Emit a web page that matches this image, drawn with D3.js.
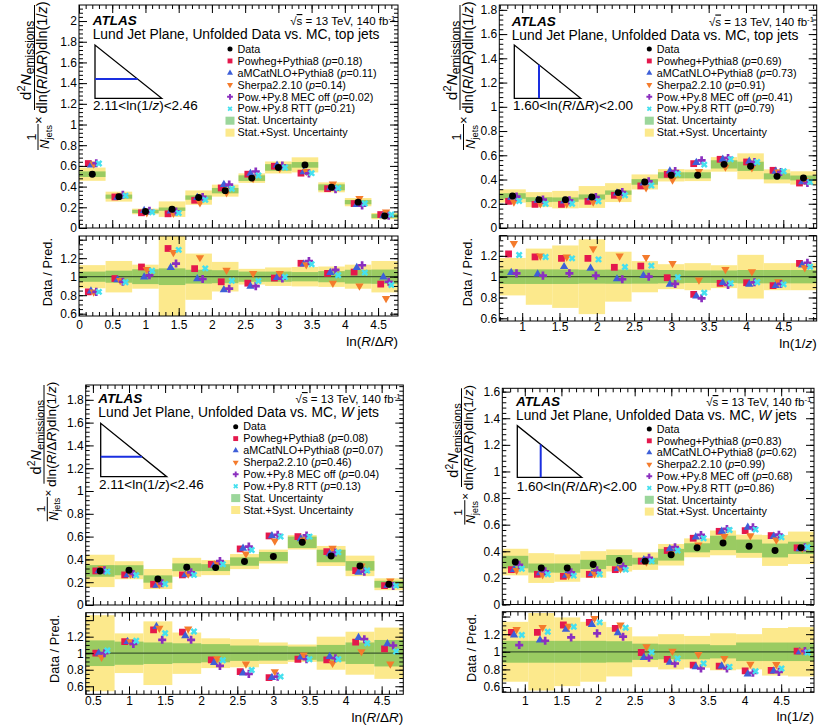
<!DOCTYPE html>
<html>
<head>
<meta charset="utf-8">
<script src="https://cdnjs.cloudflare.com/ajax/libs/d3/7.8.5/d3.min.js"></script>
<style>
body { margin: 0; background: #fff; }
text { font-family: "Liberation Sans", Arial, Helvetica, sans-serif; fill: #000; }
</style>
</head>
<body>
<div id="chart"></div>
<script>
// bin edges
var edgesDrTop = [0, 0.4, 0.8, 1.2, 1.6, 2.0, 2.4, 2.8, 3.2, 3.6, 4.0, 4.4, 4.8];
var edgesDrW = [0.4, 0.8, 1.2, 1.6, 2.0, 2.4, 2.8, 3.2, 3.6, 4.0, 4.4, 4.8];
var edgesZ = [0.693, 1.048, 1.402, 1.757, 2.111, 2.466, 2.820, 3.175, 3.529, 3.884, 4.239, 4.593, 4.948];

// tick labels
var ticksXDrTop = [0, 0.5, 1, 1.5, 2, 2.5, 3, 3.5, 4, 4.5];
var ticksXDrW = [0.5, 1, 1.5, 2, 2.5, 3, 3.5, 4, 4.5];
var ticksXZ = [1, 1.5, 2, 2.5, 3, 3.5, 4, 4.5];
var ticksY20 = [0, 0.2, 0.4, 0.6, 0.8, 1, 1.2, 1.4, 1.6, 1.8, 2];
var ticksY18 = [0, 0.2, 0.4, 0.6, 0.8, 1, 1.2, 1.4, 1.6, 1.8];
var ticksY16 = [0, 0.2, 0.4, 0.6, 0.8, 1, 1.2, 1.4, 1.6];
var ticksRatio = [0.6, 0.8, 1, 1.2, 1.4];
var labelsRatio = [0.6, 0.8, 1, 1.2];

var modelNames = ["Powheg+Pythia8", "aMCatNLO+Pythia8", "Sherpa2.2.10", "Pow.+Py.8 MEC off", "Pow.+Py.8 RTT"];

// top jets, vs ln(R/dR), 2.11<ln(1/z)<2.46
var pTopDr = [0.18, 0.11, 0.14, 0.02, 0.21];
var topDrData = [0.52, 0.303, 0.16, 0.182, 0.294, 0.361, 0.482, 0.585, 0.61, 0.393, 0.25, 0.115];
var topDrStat = [0.027, 0.02, 0.016, 0.016, 0.021, 0.026, 0.027, 0.032, 0.027, 0.029, 0.021, 0.019];
var topDrTot = [0.064, 0.048, 0.027, 0.075, 0.069, 0.058, 0.046, 0.058, 0.073, 0.048, 0.04, 0.03];
var topDrPowheg = [0.623, 0.30, 0.147, 0.137, 0.268, 0.387, 0.52, 0.597, 0.53, 0.38, 0.236, 0.13];
var topDrAmc = [0.607, 0.297, 0.169, 0.163, 0.294, 0.42, 0.527, 0.607, 0.543, 0.387, 0.227, 0.118];
var topDrSherpa = [0.62, 0.316, 0.148, 0.144, 0.244, 0.342, 0.48, 0.575, 0.546, 0.425, 0.287, 0.155];
var topDrMec = [0.626, 0.32, 0.166, 0.16, 0.30, 0.42, 0.546, 0.604, 0.527, 0.374, 0.217, 0.118];
var topDrRtt = [0.623, 0.313, 0.153, 0.144, 0.272, 0.38, 0.508, 0.585, 0.53, 0.387, 0.236, 0.13];
var topDrRPowheg = [0.836, 0.98, 1.105, 1.305, 1.087, 0.945, 0.93, 0.985, 1.145, 1.036, 1.05, 0.92];
var topDrRAmc = [0.844, 0.967, 0.996, 1.098, 0.978, 0.858, 0.895, 0.99, 1.135, 1.044, 1.098, 0.996];
var topDrRSherpa = [0.836, 0.96, 1.08, 1.262, 1.207, 1.07, 1.036, 1.036, 1.13, 0.93, 0.9, 0.764];
var topDrRMec = [0.836, 0.945, 1.015, 1.142, 0.975, 0.87, 0.898, 0.98, 1.17, 1.073, 1.124, 0.945];
var topDrRRtt = [0.836, 0.94, 1.065, 1.29, 1.09, 0.956, 0.953, 0.996, 1.135, 1.015, 1.044, 0.91];
var topDrRStat = [0.055, 0.065, 0.08, 0.09, 0.075, 0.07, 0.055, 0.055, 0.05, 0.06, 0.075, 0.077];
var topDrRTot = [0.125, 0.17, 0.13, 0.45, 0.25, 0.16, 0.085, 0.1, 0.105, 0.11, 0.13, 0.17];

// top jets, vs ln(1/z), 1.60<ln(R/dR)<2.00
var pTopZ = [0.69, 0.73, 0.91, 0.41, 0.79];
var topZData = [0.264, 0.234, 0.234, 0.256, 0.292, 0.38, 0.435, 0.435, 0.525, 0.509, 0.426, 0.413];
var topZStat = [0.023, 0.02, 0.018, 0.021, 0.018, 0.023, 0.025, 0.025, 0.034, 0.038, 0.025, 0.02];
var topZTot = [0.055, 0.062, 0.072, 0.09, 0.078, 0.062, 0.051, 0.048, 0.06, 0.107, 0.058, 0.055];
var topZPowheg = [0.22, 0.195, 0.195, 0.22, 0.27, 0.347, 0.443, 0.531, 0.567, 0.545, 0.476, 0.371];
var topZAmc = [0.253, 0.228, 0.223, 0.248, 0.289, 0.371, 0.47, 0.539, 0.567, 0.55, 0.468, 0.38];
var topZSherpa = [0.215, 0.2, 0.2, 0.215, 0.248, 0.333, 0.396, 0.468, 0.503, 0.498, 0.462, 0.393];
var topZMec = [0.259, 0.234, 0.228, 0.256, 0.297, 0.385, 0.47, 0.558, 0.578, 0.545, 0.462, 0.371];
var topZRtt = [0.223, 0.2, 0.2, 0.22, 0.27, 0.35, 0.448, 0.523, 0.567, 0.545, 0.468, 0.38];
var topZRPowheg = [1.218, 1.19, 1.176, 1.176, 1.09, 1.102, 0.99, 0.83, 0.936, 0.942, 0.914, 1.128];
var topZRAmc = [1.04, 1.026, 1.096, 1.08, 0.978, 1.01, 0.926, 0.814, 0.942, 0.926, 0.914, 1.112];
var topZRSherpa = [1.32, 1.2, 1.19, 1.27, 1.2, 1.186, 1.128, 0.968, 1.07, 1.048, 0.952, 1.086];
var topZRMec = [1.032, 1.01, 1.032, 1.01, 0.975, 1.0, 0.93, 0.792, 0.92, 0.946, 0.93, 1.134];
var topZRRtt = [1.208, 1.19, 1.176, 1.166, 1.093, 1.106, 0.994, 0.846, 0.936, 0.946, 0.926, 1.096];
var topZRStat = [0.07, 0.07, 0.07, 0.067, 0.068, 0.067, 0.064, 0.06, 0.06, 0.064, 0.064, 0.064];
var topZRTot = [0.18, 0.27, 0.3, 0.36, 0.24, 0.15, 0.12, 0.13, 0.11, 0.21, 0.13, 0.13];

// W jets, vs ln(R/dR), 2.11<ln(1/z)<2.46
var pWDr = [0.08, 0.07, 0.46, 0.04, 0.13];
var wDrData = [0.299, 0.305, 0.228, 0.331, 0.328, 0.381, 0.425, 0.55, 0.43, 0.343, 0.182];
var wDrStat = [0.051, 0.044, 0.032, 0.034, 0.03, 0.037, 0.04, 0.05, 0.055, 0.042, 0.03];
var wDrTot = [0.142, 0.079, 0.088, 0.083, 0.066, 0.066, 0.061, 0.063, 0.088, 0.09, 0.052];
var wDrPowheg = [0.299, 0.264, 0.182, 0.264, 0.357, 0.492, 0.606, 0.6, 0.468, 0.302, 0.17];
var wDrAmc = [0.299, 0.264, 0.173, 0.264, 0.351, 0.498, 0.606, 0.58, 0.448, 0.287, 0.173];
var wDrSherpa = [0.322, 0.272, 0.182, 0.272, 0.366, 0.448, 0.562, 0.571, 0.498, 0.343, 0.211];
var wDrMec = [0.305, 0.272, 0.19, 0.287, 0.386, 0.512, 0.615, 0.61, 0.46, 0.293, 0.167];
var wDrRtt = [0.293, 0.261, 0.184, 0.264, 0.357, 0.483, 0.6, 0.6, 0.463, 0.302, 0.17];
var wDrRPowheg = [1.0, 1.141, 1.283, 1.255, 0.919, 0.778, 0.705, 0.927, 0.919, 1.133, 1.053];
var wDrRAmc = [1.0, 1.141, 1.323, 1.21, 0.887, 0.758, 0.705, 0.952, 0.96, 1.19, 1.113];
var wDrRSherpa = [0.952, 1.14, 1.303, 1.295, 0.935, 0.87, 0.778, 0.98, 0.88, 1.02, 0.87];
var wDrRMec = [1.0, 1.113, 1.162, 1.162, 0.846, 0.75, 0.717, 0.927, 0.94, 1.17, 1.093];
var wDrRRtt = [1.032, 1.15, 1.242, 1.263, 0.915, 0.798, 0.717, 0.927, 0.927, 1.121, 1.02];
var wDrRStat = [0.155, 0.14, 0.13, 0.12, 0.11, 0.093, 0.09, 0.08, 0.1, 0.13, 0.16];
var wDrRTot = [0.46, 0.24, 0.385, 0.25, 0.18, 0.17, 0.13, 0.105, 0.2, 0.26, 0.31];

// W jets, vs ln(1/z), 1.60<ln(R/dR)<2.00
var pWZ = [0.83, 0.62, 0.99, 0.68, 0.86];
var wZData = [0.319, 0.274, 0.274, 0.301, 0.331, 0.326, 0.374, 0.426, 0.463, 0.438, 0.406, 0.426];
var wZStat = [0.047, 0.034, 0.035, 0.035, 0.041, 0.025, 0.044, 0.034, 0.054, 0.05, 0.052, 0.046];
var wZTot = [0.1, 0.112, 0.103, 0.1, 0.083, 0.066, 0.081, 0.071, 0.093, 0.087, 0.116, 0.122];
var wZPowheg = [0.262, 0.227, 0.212, 0.227, 0.262, 0.326, 0.406, 0.498, 0.55, 0.555, 0.518, 0.426];
var wZAmc = [0.262, 0.237, 0.219, 0.232, 0.269, 0.336, 0.418, 0.506, 0.55, 0.58, 0.513, 0.418];
var wZSherpa = [0.257, 0.224, 0.219, 0.232, 0.269, 0.319, 0.381, 0.448, 0.511, 0.518, 0.486, 0.423];
var wZMec = [0.299, 0.249, 0.242, 0.257, 0.286, 0.351, 0.431, 0.523, 0.568, 0.58, 0.525, 0.431];
var wZRtt = [0.269, 0.227, 0.217, 0.227, 0.262, 0.326, 0.406, 0.498, 0.56, 0.563, 0.506, 0.431];
var wZRPowheg = [1.22, 1.22, 1.304, 1.334, 1.266, 0.992, 0.913, 0.848, 0.837, 0.784, 0.79, 1.008];
var wZRAmc = [1.19, 1.133, 1.254, 1.31, 1.216, 0.935, 0.879, 0.829, 0.837, 0.746, 0.78, 1.0];
var wZRSherpa = [1.254, 1.277, 1.292, 1.38, 1.304, 1.057, 1.008, 0.97, 0.924, 0.86, 0.856, 1.01];
var wZRMec = [1.076, 1.125, 1.163, 1.209, 1.171, 0.932, 0.867, 0.81, 0.81, 0.761, 0.772, 1.008];
var wZRRtt = [1.19, 1.228, 1.285, 1.334, 1.273, 0.996, 0.924, 0.867, 0.829, 0.78, 0.81, 0.992];
var wZRStat = [0.124, 0.124, 0.124, 0.124, 0.12, 0.092, 0.085, 0.085, 0.075, 0.105, 0.105, 0.105];
var wZRTot = [0.34, 0.44, 0.39, 0.34, 0.28, 0.175, 0.2, 0.18, 0.21, 0.2, 0.27, 0.28];

var YELLOW = "#fce98c";
var GREEN = "rgba(55,173,55,0.5)";
var modelColors = ["#e4184c", "#3e5fd8", "#f47b2c", "#8b2fbf", "#45e0ef"];
var modelShapes = ["square", "triUp", "triDown", "cross", "x"];
var modelOffsets = [-0.15, -0.05, 0.05, 0.15, 0.25]; // fraction of bin width

var svg = d3.select("#chart").append("svg")
  .attr("width", 827)
  .attr("height", 726);

var fmt = function(d) { return String(+d.toFixed(2)); };

function marker(g, type, cx, cy, sc, color) {
  var types = {circle: d3.symbolCircle, square: d3.symbolSquare, triUp: d3.symbolTriangle,
    triDown: d3.symbolTriangle, cross: d3.symbolCross, x: d3.symbolCross};
  var sizes = {circle: 38, square: 46, triUp: 30, triDown: 30, cross: 36, x: 30};
  var rot = type == "triDown" ? 180 : (type == "x" ? 45 : 0);
  g.append("path")
    .attr("d", d3.symbol().type(types[type]).size(sizes[type] * sc * sc)())
    .attr("transform", "translate(" + cx + "," + cy + ") rotate(" + rot + ")")
    .attr("fill", color);
}

function styleAxis(a, fs) {
  a.attr("font-size", null).attr("font-family", null);
  a.select(".domain").remove();
  a.selectAll(".tick line").attr("stroke", "#000").attr("stroke-width", 1);
  a.selectAll(".tick text").style("font-size", fs + "px").attr("fill", "#000");
}

// R/ΔR written with italic R
function addDR(t) {
  t.append("tspan").style("font-style", "italic").text("R");
  t.append("tspan").text("/\u0394");
  t.append("tspan").style("font-style", "italic").text("R");
}

function addLnZ(t) {
  t.append("tspan").text("ln(1/");
  t.append("tspan").style("font-style", "italic").text("z");
  t.append("tspan").text(")");
}

function drawYTitle(lx, top, s) {
  var g = svg.append("g").attr("transform", "translate(" + lx + ",0) rotate(-90)");
  var fs = 14.5 * s;
  var c = -(top + 52.5 * s);
  g.append("line")
    .attr("x1", -top).attr("x2", -(top + 105 * s))
    .attr("y1", 0).attr("y2", 0)
    .attr("stroke", "#000").attr("stroke-width", 1);
  var num = g.append("text").attr("x", c - 3 * s).attr("y", -3.5 * s)
    .attr("text-anchor", "middle").style("font-size", (15.5 * s) + "px");
  num.append("tspan").text("d");
  num.append("tspan").attr("dy", -6 * s).style("font-size", (11 * s) + "px").text("2");
  num.append("tspan").attr("dy", 6 * s).style("font-style", "italic").text("N");
  num.append("tspan").attr("dy", 3 * s).style("font-size", (12 * s) + "px").text("emissions");
  var den = g.append("text").attr("x", c).attr("y", 12.5 * s)
    .attr("text-anchor", "middle").style("font-size", fs + "px");
  den.append("tspan").text("dln(");
  addDR(den);
  den.append("tspan").text(")d");
  addLnZ(den);
  g.append("text").attr("x", -(top + 115 * s)).attr("y", 8 * s)
    .attr("text-anchor", "middle").style("font-size", (12.5 * s) + "px").text("\u00d7");
  g.append("line")
    .attr("x1", -(top + 119 * s)).attr("x2", -(top + 145 * s))
    .attr("y1", 3.5 * s).attr("y2", 3.5 * s)
    .attr("stroke", "#000").attr("stroke-width", 1);
  g.append("text").attr("x", -(top + 132 * s)).attr("y", 1 * s)
    .attr("text-anchor", "middle").style("font-size", (12.5 * s) + "px").text("1");
  var nj = g.append("text").attr("x", -(top + 132 * s)).attr("y", 14.5 * s)
    .attr("text-anchor", "middle").style("font-size", (13 * s) + "px");
  nj.append("tspan").style("font-style", "italic").text("N");
  nj.append("tspan").attr("dy", 3 * s).style("font-size", (9.5 * s) + "px").text("jets");
}

function drawPanel(p) {
  var L = p.layout;
  var g = svg.append("g");
  var x = d3.scaleLinear().domain(L.xDomain).range([L.left, L.right]);
  var y = d3.scaleLinear().domain(L.yDomain).range([L.mainBottom, L.top]);
  var yr = d3.scaleLinear().domain(L.rDomain).range([L.ratioBottom, L.ratioTop]);
  var nb = p.data.length;
  var idx = d3.range(nb);

  var clipId = "clip" + p.id;
  svg.append("clipPath").attr("id", clipId).append("rect")
    .attr("x", L.left).attr("y", L.ratioTop)
    .attr("width", L.right - L.left).attr("height", L.ratioBottom - L.ratioTop);

  // main bands
  var bands = g.append("g");
  idx.forEach(function(i) {
    var x0 = x(p.edges[i]), x1 = x(p.edges[i + 1]);
    bands.append("rect").attr("x", x0).attr("width", x1 - x0)
      .attr("y", y(p.data[i] + p.tot[i])).attr("height", y(p.data[i] - p.tot[i]) - y(p.data[i] + p.tot[i]))
      .attr("fill", YELLOW);
  });
  idx.forEach(function(i) {
    var x0 = x(p.edges[i]), x1 = x(p.edges[i + 1]);
    bands.append("rect").attr("x", x0).attr("width", x1 - x0)
      .attr("y", y(p.data[i] + p.stat[i])).attr("height", y(p.data[i] - p.stat[i]) - y(p.data[i] + p.stat[i]))
      .attr("fill", GREEN);
  });

  // ratio bands
  var rb = g.append("g").attr("clip-path", "url(#" + clipId + ")");
  idx.forEach(function(i) {
    var x0 = x(p.edges[i]), x1 = x(p.edges[i + 1]);
    rb.append("rect").attr("x", x0).attr("width", x1 - x0)
      .attr("y", yr(1 + p.rTot[i])).attr("height", yr(1 - p.rTot[i]) - yr(1 + p.rTot[i]))
      .attr("fill", YELLOW);
  });
  idx.forEach(function(i) {
    var x0 = x(p.edges[i]), x1 = x(p.edges[i + 1]);
    rb.append("rect").attr("x", x0).attr("width", x1 - x0)
      .attr("y", yr(1 + p.rStat[i])).attr("height", yr(1 - p.rStat[i]) - yr(1 + p.rStat[i]))
      .attr("fill", GREEN);
  });
  rb.append("line").attr("x1", L.left).attr("x2", L.right)
    .attr("y1", yr(1)).attr("y2", yr(1))
    .attr("stroke", "#3d5a30").attr("stroke-width", 1.3);

  // markers
  var mk = g.append("g");
  var rmk = g.append("g").attr("clip-path", "url(#" + clipId + ")");
  p.mc.forEach(function(series, k) {
    idx.forEach(function(i) {
      var w = p.edges[i + 1] - p.edges[i];
      var cx = x((p.edges[i] + p.edges[i + 1]) / 2 + modelOffsets[k] * w);
      marker(mk, modelShapes[k], cx, y(series[i]), 1, modelColors[k]);
      marker(rmk, modelShapes[k], cx, yr(p.ratio[k][i]), 1, modelColors[k]);
    });
  });
  idx.forEach(function(i) {
    marker(mk, "circle", x((p.edges[i] + p.edges[i + 1]) / 2), y(p.data[i]), 1, "#000");
  });

  // axes, ROOT style: ticks inside on all four sides
  var yMinor = d3.range(0, L.yDomain[1], 0.04);
  var rMinor = d3.range(0.5, L.rDomain[1], 0.05).filter(function(d) { return d >= L.rDomain[0]; });
  var xMinor = d3.range(0, L.xDomain[1], 0.1).filter(function(d) { return d >= L.xDomain[0]; });

  function ax(axis, tx, ty, fs) {
    var a = g.append("g").attr("transform", "translate(" + tx + "," + ty + ")").call(axis);
    styleAxis(a, fs || 12);
    return a;
  }
  // main
  ax(d3.axisLeft(y).tickValues(p.yTicks).tickSize(-8).tickPadding(2).tickFormat(fmt), L.left, 0);
  ax(d3.axisLeft(y).tickValues(yMinor).tickSize(-4).tickFormat(""), L.left, 0);
  ax(d3.axisRight(y).tickValues(p.yTicks).tickSize(-8).tickFormat(""), L.right, 0);
  ax(d3.axisRight(y).tickValues(yMinor).tickSize(-4).tickFormat(""), L.right, 0);
  ax(d3.axisBottom(x).tickValues(p.xTicks).tickSize(-8).tickFormat(""), 0, L.mainBottom);
  ax(d3.axisBottom(x).tickValues(xMinor).tickSize(-4).tickFormat(""), 0, L.mainBottom);
  ax(d3.axisTop(x).tickValues(p.xTicks).tickSize(-8).tickFormat(""), 0, L.top);
  ax(d3.axisTop(x).tickValues(xMinor).tickSize(-4).tickFormat(""), 0, L.top);
  // ratio
  ax(d3.axisLeft(yr).tickValues(ticksRatio).tickSize(-8).tickPadding(2)
    .tickFormat(function(d) { return labelsRatio.indexOf(d) >= 0 ? fmt(d) : ""; }), L.left, 0);
  ax(d3.axisLeft(yr).tickValues(rMinor).tickSize(-4).tickFormat(""), L.left, 0);
  ax(d3.axisRight(yr).tickValues(ticksRatio).tickSize(-8).tickFormat(""), L.right, 0);
  ax(d3.axisRight(yr).tickValues(rMinor).tickSize(-4).tickFormat(""), L.right, 0);
  ax(d3.axisBottom(x).tickValues(p.xTicks).tickSize(-8).tickPadding(L.xPad).tickFormat(fmt), 0, L.ratioBottom);
  ax(d3.axisBottom(x).tickValues(xMinor).tickSize(-4).tickFormat(""), 0, L.ratioBottom);
  ax(d3.axisTop(x).tickValues(p.xTicks).tickSize(-8).tickFormat(""), 0, L.ratioTop);
  ax(d3.axisTop(x).tickValues(xMinor).tickSize(-4).tickFormat(""), 0, L.ratioTop);

  // frames
  [[L.top, L.mainBottom], [L.ratioTop, L.ratioBottom]].forEach(function(r) {
    g.append("rect").attr("x", L.left).attr("y", r[0])
      .attr("width", L.right - L.left).attr("height", r[1] - r[0])
      .attr("fill", "none").attr("stroke", "#000").attr("stroke-width", 1);
  });

  // x title
  var xt = g.append("text").attr("x", L.right).attr("y", L.xTitleY)
    .attr("text-anchor", "end").style("font-size", "13.5px");
  if (p.xVar == "dr") {
    xt.append("tspan").text("ln(");
    addDR(xt);
    xt.append("tspan").text(")");
  } else {
    addLnZ(xt);
  }

  // y titles
  drawYTitle(L.yTitleX, L.top, L.yTitleScale);
  g.append("text")
    .attr("transform", "translate(" + L.ratioTitleX + "," + (L.ratioTop + 2) + ") rotate(-90)")
    .attr("text-anchor", "end").style("font-size", "12.8px").text("Data / Pred.");

  // labels
  g.append("text").attr("x", L.textX).attr("y", L.atlasY)
    .style("font-size", "13.5px").style("font-weight", "bold").style("font-style", "italic").text("ATLAS");
  var tt = g.append("text").attr("x", L.textX).attr("y", L.atlasY + 14)
    .style("font-size", "13.8px");
  if (p.jet == "top") {
    tt.text("Lund Jet Plane, Unfolded Data vs. MC, top jets");
  } else {
    tt.append("tspan").text("Lund Jet Plane, Unfolded Data vs. MC, ");
    tt.append("tspan").style("font-style", "italic").text("W");
    tt.append("tspan").text(" jets");
  }
  var en = g.append("text").attr("x", L.right - 2.5).attr("y", L.atlasY)
    .attr("text-anchor", "end").style("font-size", "11.5px");
  en.append("tspan").text("\u221a");
  en.append("tspan").attr("text-decoration", "overline").style("text-decoration", "overline").text("s");
  en.append("tspan").text(" = 13 TeV, 140 fb");
  en.append("tspan").attr("dy", -4).style("font-size", "8px").text("-1");

  // Lund-plane inset triangle
  var T = L.tri;
  g.append("path")
    .attr("d", "M" + T.x0 + "," + T.yTop + "L" + T.x0 + "," + T.yBot + "L" + T.x1 + "," + T.yBot + "Z")
    .attr("fill", "none").attr("stroke", "#000").attr("stroke-width", 1.3);
  if (p.xVar == "dr") {
    var xh = T.x0 + (T.blue - T.yTop) / (T.yBot - T.yTop) * (T.x1 - T.x0);
    g.append("line").attr("x1", T.x0).attr("x2", xh).attr("y1", T.blue).attr("y2", T.blue)
      .attr("stroke", "#1a2fe0").attr("stroke-width", 2);
  } else {
    var yh = T.yTop + (T.blue - T.x0) / (T.x1 - T.x0) * (T.yBot - T.yTop);
    g.append("line").attr("x1", T.blue).attr("x2", T.blue).attr("y1", T.yBot).attr("y2", yh)
      .attr("stroke", "#1a2fe0").attr("stroke-width", 2);
  }
  var sl = g.append("text").attr("x", T.labelX).attr("y", T.labelY).style("font-size", "13.5px");
  if (p.xVar == "dr") {
    sl.append("tspan").text("2.11<");
    addLnZ(sl);
    sl.append("tspan").text("<2.46");
  } else {
    sl.append("tspan").text("1.60<ln(");
    addDR(sl);
    sl.append("tspan").text(")<2.00");
  }

  // legend
  var lg = g.append("g");
  var rows = d3.range(8).map(function(j) { return L.legY + j * L.legStep; });
  var lfs = "10.8px";
  marker(lg, "circle", L.legX, rows[0], 0.72, "#000");
  lg.append("text").attr("x", L.legX + 7.5).attr("y", rows[0] + 3.7).style("font-size", lfs).text("Data");
  modelNames.forEach(function(name, k) {
    marker(lg, modelShapes[k], L.legX, rows[k + 1], 0.72, modelColors[k]);
    var t = lg.append("text").attr("x", L.legX + 7.5).attr("y", rows[k + 1] + 3.7).style("font-size", lfs);
    t.append("tspan").text(name + " (");
    t.append("tspan").style("font-style", "italic").text("p");
    t.append("tspan").text("=" + p.pvals[k].toFixed(2) + ")");
  });
  [[GREEN, "Stat. Uncertainty"], [YELLOW, "Stat.+Syst. Uncertainty"]].forEach(function(e, j) {
    var ry = rows[6 + j];
    lg.append("rect").attr("x", L.legX - 4.5).attr("y", ry - 4).attr("width", 9).attr("height", 8).attr("fill", e[0]);
    lg.append("text").attr("x", L.legX + 7.5).attr("y", ry + 3.7).style("font-size", lfs).text(e[1]);
  });
}

var panels = [
  {id: 1, xVar: "dr", jet: "top", edges: edgesDrTop, xTicks: ticksXDrTop, yTicks: ticksY20, pvals: pTopDr,
    data: topDrData, stat: topDrStat, tot: topDrTot,
    mc: [topDrPowheg, topDrAmc, topDrSherpa, topDrMec, topDrRtt],
    ratio: [topDrRPowheg, topDrRAmc, topDrRSherpa, topDrRMec, topDrRRtt],
    rStat: topDrRStat, rTot: topDrRTot,
    layout: {left: 79, right: 398, top: 5, mainBottom: 228, ratioTop: 236, ratioBottom: 316,
      xDomain: [0, 4.8], yDomain: [0, 2.155], rDomain: [0.575, 1.44], xPad: 4, xTitleY: 345.5,
      yTitleX: 34.5, yTitleScale: 1, ratioTitleX: 52,
      textX: 92.7, atlasY: 25, legX: 230, legY: 49, legStep: 11.95,
      tri: {x0: 95, yTop: 45, yBot: 98.3, x1: 161.7, blue: 79, labelX: 93, labelY: 110}}},
  {id: 2, xVar: "z", jet: "top", edges: edgesZ, xTicks: ticksXZ, yTicks: ticksY18, pvals: pTopZ,
    data: topZData, stat: topZStat, tot: topZTot,
    mc: [topZPowheg, topZAmc, topZSherpa, topZMec, topZRtt],
    ratio: [topZRPowheg, topZRAmc, topZRSherpa, topZRMec, topZRRtt],
    rStat: topZRStat, rTot: topZRTot,
    layout: {left: 499.3, right: 816.7, top: 5, mainBottom: 228, ratioTop: 236, ratioBottom: 321,
      xDomain: [0.693, 4.948], yDomain: [0, 1.84], rDomain: [0.574, 1.391], xPad: 1.5, xTitleY: 347.5,
      yTitleX: 460, yTitleScale: 1, ratioTitleX: 472,
      textX: 511.7, atlasY: 25.5, legX: 649.3, legY: 49, legStep: 11.95,
      tri: {x0: 514.3, yTop: 45, yBot: 98.3, x1: 580.7, blue: 539, labelX: 513, labelY: 110}}},
  {id: 3, xVar: "dr", jet: "W", edges: edgesDrW, xTicks: ticksXDrW, yTicks: ticksY18, pvals: pWDr,
    data: wDrData, stat: wDrStat, tot: wDrTot,
    mc: [wDrPowheg, wDrAmc, wDrSherpa, wDrMec, wDrRtt],
    ratio: [wDrRPowheg, wDrRAmc, wDrRSherpa, wDrRMec, wDrRRtt],
    rStat: wDrRStat, rTot: wDrRTot,
    layout: {left: 85.7, right: 403.3, top: 385, mainBottom: 605, ratioTop: 612.7, ratioBottom: 694.3,
      xDomain: [0.4, 4.8], yDomain: [0, 1.93], rDomain: [0.503, 1.49], xPad: 2.5, xTitleY: 722,
      yTitleX: 44, yTitleScale: 0.94, ratioTitleX: 59,
      textX: 98.3, atlasY: 403, legX: 235.7, legY: 426.7, legStep: 11.9,
      tri: {x0: 100.7, yTop: 423.3, yBot: 476.7, x1: 166.7, blue: 456.7, labelX: 99, labelY: 489}}},
  {id: 4, xVar: "z", jet: "W", edges: edgesZ, xTicks: ticksXZ, yTicks: ticksY16, pvals: pWZ,
    data: wZData, stat: wZStat, tot: wZTot,
    mc: [wZPowheg, wZAmc, wZSherpa, wZMec, wZRtt],
    ratio: [wZRPowheg, wZRAmc, wZRSherpa, wZRMec, wZRRtt],
    rStat: wZRStat, rTot: wZRTot,
    layout: {left: 502.3, right: 814, top: 388.3, mainBottom: 604.5, ratioTop: 611.7, ratioBottom: 692.3,
      xDomain: [0.693, 4.948], yDomain: [0, 1.625], rDomain: [0.54, 1.455], xPad: 4.5, xTitleY: 721,
      yTitleX: 461.5, yTitleScale: 0.94, ratioTitleX: 476,
      textX: 516, atlasY: 406, legX: 649.3, legY: 429, legStep: 11.8,
      tri: {x0: 517.3, yTop: 425.7, yBot: 477.3, x1: 581.7, blue: 540.7, labelX: 516.7, labelY: 491}}}
];

panels.forEach(drawPanel);
</script>
</body>
</html>
